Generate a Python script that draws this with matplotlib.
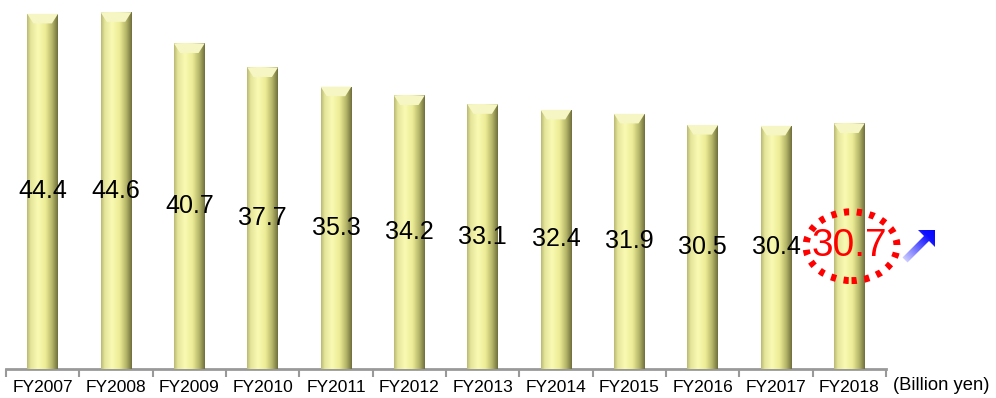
import matplotlib.pyplot as plt
import numpy as np
from matplotlib.patches import Ellipse, Polygon
from matplotlib.colors import LinearSegmentedColormap

plt.rcParams['font.family'] = ['Liberation Sans', 'DejaVu Sans']

# data
years = ['FY2007', 'FY2008', 'FY2009', 'FY2010', 'FY2011', 'FY2012',
         'FY2013', 'FY2014', 'FY2015', 'FY2016', 'FY2017', 'FY2018']
values = [44.4, 44.6, 40.7, 37.7, 35.3, 34.2, 33.1, 32.4, 31.9, 30.5, 30.4, 30.7]
unit = '(Billion yen)'

fig = plt.figure(figsize=(9.96, 3.98), dpi=100)
ax = fig.add_axes([6/996, 29/398, 880/996, 368/398])

x = np.arange(len(values))
bars = ax.bar(x, values, width=0.42, color='#eeee99', zorder=2)

# cylinder-like shading: horizontal gradient clipped to each bar
bar_cmap = LinearSegmentedColormap.from_list('cyl', [
    (0.0, '#b8b874'), (0.12, '#e4e49a'), (0.35, '#fafab4'),
    (0.6, '#ecec96'), (0.82, '#b4b468'), (1.0, '#6e6e3c')])
grad = np.linspace(0, 1, 256).reshape(1, -1)
for b in bars:
    x0, w, h = b.get_x(), b.get_width(), b.get_height()
    im = ax.imshow(grad, cmap=bar_cmap, aspect='auto',
                   extent=[x0, x0 + w, 0, h], zorder=3)
    im.set_clip_path(b)
    # bevelled top
    cap = Polygon([[x0, h], [x0 + w, h], [x0 + w*0.8, h - 1.2], [x0 + w*0.2, h - 1.2]],
                  closed=True, facecolor='#f6f6c4', edgecolor='none', zorder=4)
    ax.add_patch(cap)

# value labels at mid height
for i, v in enumerate(values[:-1]):
    ax.text(i, v / 2, f'{v}', ha='center', va='center', fontsize=18, zorder=5)
last = len(values) - 1
ax.text(last, values[-1] / 2, f'{values[-1]}', ha='center', va='center',
        fontsize=28, color='#ff0000', zorder=6)
ax.add_patch(Ellipse((last + 0.03, values[-1] / 2), 1.24, 8.6, fill=False,
                     edgecolor='#ff0000', linewidth=5, linestyle=(0, (0.75, 1.1)),
                     zorder=6, clip_on=False))

# blue upward arrow with fade (small overlay axes, pixel units)
ax2 = fig.add_axes([900/996, 130/398, 40/996, 40/398])
ax2.set_xlim(0, 40)
ax2.set_ylim(0, 40)
ax2.axis('off')
arr = Polygon([[7.5, 5.5], [29, 27], [35, 21], [35, 38], [18, 38],
               [24, 32], [2.5, 10.5]],
              closed=True, facecolor='none', edgecolor='none')
ax2.add_patch(arr)
arr_cmap = LinearSegmentedColormap.from_list('arr', [(0, '#ffffff'), (0.45, '#7070ff'),
                                                     (0.75, '#1010ff'), (1, '#0000ff')])
gx, gy = np.meshgrid(np.linspace(0, 1, 80), np.linspace(0, 1, 80))
aim = ax2.imshow((gx + gy) / 2, cmap=arr_cmap, origin='lower', aspect='auto',
                 extent=[0, 40, 0, 40])
aim.set_clip_path(arr)

ax.set_xlim(-0.5, len(values) - 0.5)
ax.set_ylim(0, 46)

for s in ['top', 'right', 'left']:
    ax.spines[s].set_visible(False)
ax.spines['bottom'].set_color('#999999')
ax.spines['bottom'].set_linewidth(2)
ax.set_yticks([])
ax.set_xticks(np.arange(-0.5, len(values)), minor=False)
ax.set_xticklabels([])
ax.tick_params(axis='x', length=6, width=1.5, color='#999999')
ax.set_xticks(x, minor=True)
ax.set_xticklabels(years, minor=True, fontsize=12.5)
ax.tick_params(axis='x', which='minor', length=0, pad=8)

fig.text(893/996, 13/398, unit, fontsize=13.2, ha='left', va='center')

fig.savefig('out.png', dpi=100)
